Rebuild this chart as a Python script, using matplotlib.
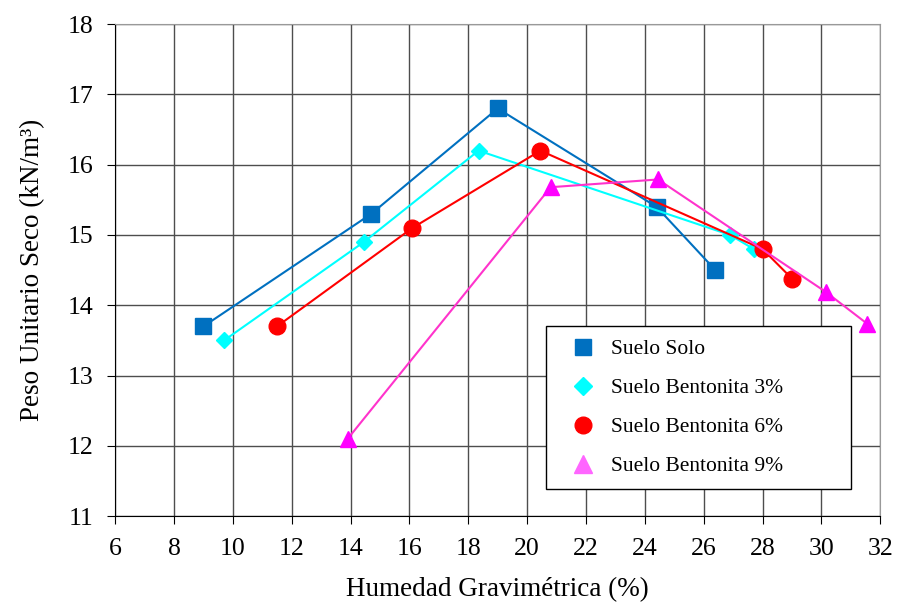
import matplotlib
matplotlib.use('Agg')
import matplotlib.pyplot as plt
from matplotlib.lines import Line2D

plt.rcParams['font.family'] = ['Liberation Serif', 'DejaVu Serif']

# humedad (%) y peso unitario seco (kN/m3)
w_solo = [9.0, 14.7, 19.0, 24.4, 26.4]
g_solo = [13.7, 15.3, 16.8, 15.4, 14.5]

w_b3 = [9.7, 14.45, 18.35, 26.9, 27.7]
g_b3 = [13.5, 14.9, 16.2, 15.0, 14.8]

w_b6 = [11.5, 16.1, 20.45, 28.0, 29.0]
g_b6 = [13.7, 15.1, 16.2, 14.8, 14.38]

w_b9 = [13.9, 20.8, 24.45, 30.15, 31.55]
g_b9 = [12.1, 15.68, 15.79, 14.19, 13.74]

labels = ['Suelo Solo', 'Suelo Bentonita 3%', 'Suelo Bentonita 6%',
          'Suelo Bentonita 9%']
xticks = list(range(6, 33, 2))
yticks = list(range(11, 19))

fig = plt.figure(figsize=(9, 6.03), dpi=100)
ax = fig.add_axes([0.128, 0.144, 0.850, 0.816])

ax.plot(w_solo, g_solo, color='#0070C0', lw=1.5, marker='s', ms=11,
        mfc='#0070C0', mec='#0070C0', zorder=3)
ax.plot(w_b3, g_b3, color='#00FFFF', lw=1.5, marker='D', ms=8,
        mfc='#00FFFF', mec='#00FFFF', zorder=3)
ax.plot(w_b6, g_b6, color='#FF0000', lw=1.5, marker='o', ms=12,
        mfc='#FF0000', mec='#FF0000', zorder=3)
ax.plot(w_b9, g_b9, color='#FF33CC', lw=1.5, marker='^', ms=12,
        mfc='#FF00FF', mec='#FF00FF', zorder=3)

ax.set_xlim(6, 32)
ax.set_ylim(11, 18)
ax.set_xticks(xticks)
ax.set_yticks(yticks)
ax.grid(True, color='0.3', lw=1.0, zorder=0)
ax.set_axisbelow(True)
for side in ['top', 'right']:
    ax.spines[side].set_color('0.6')
for side in ['left', 'bottom']:
    ax.spines[side].set_color('black')
ax.tick_params(direction='out', length=6, labelsize=18.5, colors='black',
               pad=10)

ax.set_xlabel('Humedad Gravimétrica (%)', fontsize=19.5, labelpad=12)
ax.set_ylabel('Peso Unitario Seco (kN/m³)', fontsize=19.5, labelpad=16)

handles = [
    Line2D([], [], ls='none', marker='s', ms=11, mfc='#0070C0', mec='#0070C0'),
    Line2D([], [], ls='none', marker='D', ms=9, mfc='#00FFFF', mec='#00FFFF'),
    Line2D([], [], ls='none', marker='o', ms=12, mfc='#FF0000', mec='#FF0000'),
    Line2D([], [], ls='none', marker='^', ms=13, mfc='#FF66FF', mec='#FF66FF'),
]
leg = ax.legend(handles, labels, loc='lower left',
                bbox_to_anchor=(0.5634, 0.055, 0.3987, 0.337), mode='expand',
                borderaxespad=0, fontsize=15.5, frameon=True, fancybox=False,
                framealpha=1, edgecolor='black', labelspacing=0.88,
                handletextpad=0.2, borderpad=0.6, handlelength=2.2)
leg.get_frame().set_linewidth(1.0)

fig.savefig('out.png', dpi=100)
